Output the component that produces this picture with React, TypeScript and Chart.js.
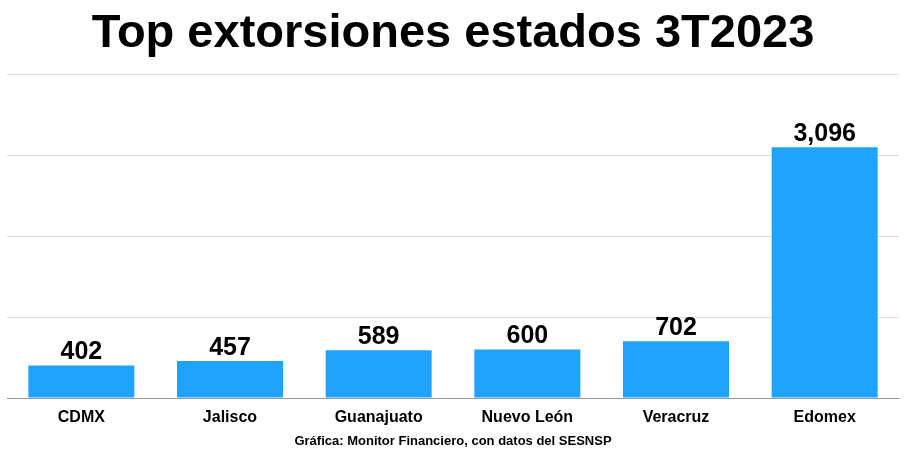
import React, { useEffect, useRef } from "react";
import { Chart, registerables } from "chart.js";

Chart.register(...registerables);

const categories = ["CDMX", "Jalisco", "Guanajuato", "Nuevo León", "Veracruz", "Edomex"];
const values = [402, 457, 589, 600, 702, 3096];
const titleText = "Top extorsiones estados 3T2023";
const footerText = "Gráfica: Monitor Financiero, con datos del SESNSP";

const FONT = '"Liberation Sans", Arial, Helvetica, sans-serif';

const valueLabels = {
  id: "valueLabels",
  afterDatasetsDraw(chart: any) {
    const ctx = chart.ctx;
    const meta = chart.getDatasetMeta(0);
    ctx.save();
    ctx.font = `bold 25px ${FONT}`;
    ctx.fillStyle = "#000";
    ctx.textAlign = "center";
    ctx.textBaseline = "alphabetic";
    meta.data.forEach((bar: any, i: number) => {
      const v = chart.data.datasets[0].data[i];
      ctx.fillText(Number(v).toLocaleString("en-US"), bar.x, bar.y - 6);
    });
    ctx.restore();
  },
};

export default function App() {
  const ref = useRef<HTMLCanvasElement>(null);
  useEffect(() => {
    if (!ref.current) return;
    const chart = new Chart(ref.current, {
      type: "bar",
      data: {
        labels: categories,
        datasets: [
          {
            data: values,
            backgroundColor: "#1fa3ff",
            barPercentage: 0.713,
            categoryPercentage: 1,
          },
        ],
      },
      options: {
        responsive: false,
        animation: false,
        layout: { padding: { left: 7, right: 5, top: 0, bottom: 0 } },
        plugins: {
          legend: { display: false },
          tooltip: { enabled: false },
          title: {
            display: true,
            text: titleText,
            color: "#000",
            font: { family: FONT, size: 47, weight: "bold", lineHeight: 1.2 },
            padding: { top: 6, bottom: 11.6 },
          },
          subtitle: {
            display: true,
            position: "bottom",
            text: footerText,
            color: "#000",
            font: { family: FONT, size: 13, weight: "bold", lineHeight: 1.2 },
            padding: { top: 0, bottom: 21.2 },
          },
        },
        scales: {
          x: {
            grid: { display: false, drawTicks: false },
            border: { display: true, color: "#999", width: 1 },
            ticks: {
              color: "#000",
              padding: 10,
              font: { family: FONT, size: 16, weight: "bold", lineHeight: 1.2 },
            },
            afterFit: (scale: any) => {
              scale.height = 35.2;
            },
          },
          y: {
            min: 0,
            max: 4000,
            ticks: { display: false, stepSize: 1000 },
            grid: { color: "#dddddd", drawTicks: false },
            border: { display: false },
          },
        },
      },
      plugins: [valueLabels],
    });
    return () => chart.destroy();
  }, []);
  return (
    <div style={{ position: "absolute", left: 0, top: 0, width: 904, height: 470, background: "#fff" }}>
      <canvas ref={ref} width={904} height={470} style={{ width: 904, height: 470 }} />
    </div>
  );
}
